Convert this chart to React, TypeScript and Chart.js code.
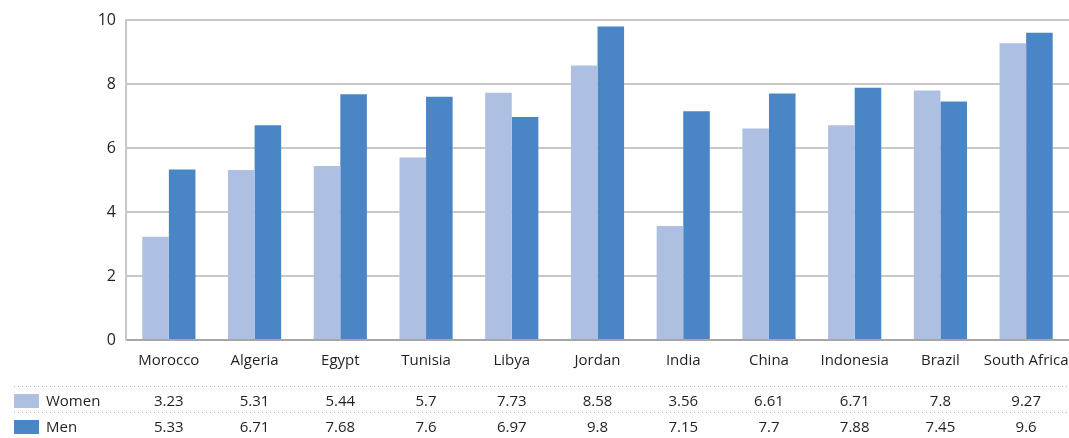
import React, { useEffect, useRef } from "react";
import { Chart, registerables } from "chart.js";

Chart.register(...registerables);

const countries = ["Morocco", "Algeria", "Egypt", "Tunisia", "Libya", "Jordan", "India", "China", "Indonesia", "Brazil", "South Africa"];
const women = [3.23, 5.31, 5.44, 5.7, 7.73, 8.58, 3.56, 6.61, 6.71, 7.8, 9.27];
const men = [5.33, 6.71, 7.68, 7.6, 6.97, 9.8, 7.15, 7.7, 7.88, 7.45, 9.6];
const yTicks = [0, 2, 4, 6, 8, 10];

const WOMEN_COLOR = "#adc0e1";
const MEN_COLOR = "#4a85c5";
const FONT = "'Open Sans', sans-serif";
const TEXT = "#231f20";

const W = 1069;
const H = 438;

// Data table under the x axis: legend swatch, series name and one value per category
const dataTable = {
  id: "dataTable",
  afterDraw(chart: any) {
    const ctx = chart.ctx as CanvasRenderingContext2D;
    const x = chart.scales.x;
    const rows = [
      { name: "Women", color: WOMEN_COLOR, values: women, y: 401 },
      { name: "Men", color: MEN_COLOR, values: men, y: 427 },
    ];
    ctx.save();
    // dotted separators
    ctx.strokeStyle = "#b3b3b3";
    ctx.lineWidth = 1;
    ctx.setLineDash([1, 3]);
    [386.5, 412.5].forEach((ly) => {
      ctx.beginPath();
      ctx.moveTo(14, ly);
      ctx.lineTo(W, ly);
      ctx.stroke();
    });
    ctx.setLineDash([]);
    ctx.font = `15px ${FONT}`;
    ctx.fillStyle = TEXT;
    ctx.textBaseline = "middle";
    rows.forEach((r) => {
      ctx.fillStyle = r.color;
      ctx.fillRect(14, r.y - 7, 25, 14);
      ctx.fillStyle = TEXT;
      ctx.textAlign = "left";
      ctx.fillText(r.name, 46, r.y + 1);
      ctx.textAlign = "center";
      r.values.forEach((v, i) => {
        ctx.fillText(String(v), x.getPixelForValue(i), r.y + 1);
      });
    });
    ctx.restore();
  },
};

export default function App() {
  const ref = useRef<HTMLCanvasElement>(null);

  useEffect(() => {
    if (!ref.current) return;
    const chart = new Chart(ref.current, {
      type: "bar",
      data: {
        labels: countries,
        datasets: [
          { label: "Women", data: women, backgroundColor: WOMEN_COLOR, borderWidth: 0 },
          { label: "Men", data: men, backgroundColor: MEN_COLOR, borderWidth: 0 },
        ],
      },
      options: {
        animation: false,
        responsive: false,
        devicePixelRatio: 1,
        layout: { padding: { top: 20, right: 0, left: 0, bottom: 0 } },
        datasets: { bar: { categoryPercentage: 0.62, barPercentage: 1 } },
        plugins: {
          legend: { display: false },
          tooltip: { enabled: false },
        },
        scales: {
          x: {
            grid: { display: false, drawTicks: false },
            border: { display: true, color: "#a6a6a6", width: 2 },
            ticks: { color: TEXT, font: { family: FONT, size: 15 }, padding: 12, maxRotation: 0, autoSkip: false },
            afterFit: (s: any) => {
              s.height = 98;
              s.paddingLeft = 0;
              s.paddingRight = 0;
            },
          },
          y: {
            min: 0,
            max: 10,
            afterBuildTicks: (s: any) => { s.ticks = yTicks.map((v) => ({ value: v })); },
            grid: { color: "#c8c8c8", lineWidth: 2, drawTicks: false },
            border: { display: true, color: "#c8c8c8", width: 2 },
            ticks: { color: TEXT, font: { family: FONT, size: 16 }, padding: 10 },
            afterFit: (s: any) => { s.width = 126; },
          },
        },
      },
      plugins: [dataTable],
    });
    return () => chart.destroy();
  }, []);

  return (
    <div style={{ position: "fixed", left: 0, top: 0, width: W, height: H, background: "#fff" }}>
      <canvas ref={ref} width={W} height={H} style={{ display: "block" }} />
    </div>
  );
}
